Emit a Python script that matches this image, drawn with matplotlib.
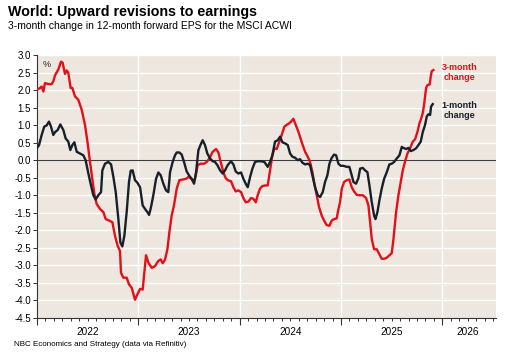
import numpy as np
import matplotlib
matplotlib.use("Agg")
import matplotlib.pyplot as plt
from matplotlib.ticker import FixedLocator, FuncFormatter

plt.rcParams['font.family'] = ['Liberation Sans', 'DejaVu Sans']

# ---- data (time in fractional years) ----
red_t = [2022.000, 2022.030, 2022.046, 2022.063, 2022.079, 2022.112, 2022.145, 2022.161, 2022.178, 2022.211,
         2022.237, 2022.253, 2022.276, 2022.293, 2022.309, 2022.332, 2022.349, 2022.375, 2022.408, 2022.441,
         2022.474, 2022.500, 2022.523, 2022.546, 2022.566, 2022.589, 2022.622, 2022.655, 2022.678, 2022.711,
         2022.744, 2022.770, 2022.796, 2022.819, 2022.829, 2022.852, 2022.885, 2022.908, 2022.935, 2022.967,
         2022.990, 2023.017, 2023.043, 2023.056, 2023.076, 2023.099, 2023.132, 2023.165, 2023.198, 2023.221,
         2023.241, 2023.264, 2023.287, 2023.306, 2023.329, 2023.352, 2023.379, 2023.405, 2023.438, 2023.471,
         2023.494, 2023.517, 2023.543, 2023.560, 2023.586, 2023.616, 2023.649, 2023.675, 2023.701, 2023.734,
         2023.767, 2023.790, 2023.813, 2023.839, 2023.860, 2023.882, 2023.915, 2023.938, 2023.961, 2023.987,
         2024.014, 2024.037, 2024.060, 2024.086, 2024.112, 2024.136, 2024.159, 2024.178, 2024.201, 2024.224,
         2024.251, 2024.277, 2024.300, 2024.323, 2024.343, 2024.366, 2024.389, 2024.415, 2024.442, 2024.465,
         2024.488, 2024.507, 2024.530, 2024.553, 2024.580, 2024.613, 2024.646, 2024.672, 2024.695, 2024.718,
         2024.738, 2024.761, 2024.784, 2024.810, 2024.833, 2024.859, 2024.886, 2024.909, 2024.932, 2024.958,
         2024.975, 2024.991, 2025.008, 2025.031, 2025.057, 2025.083, 2025.106, 2025.129, 2025.156, 2025.182,
         2025.215, 2025.248, 2025.271, 2025.287, 2025.304, 2025.327, 2025.353, 2025.379, 2025.402, 2025.426,
         2025.452, 2025.478, 2025.501, 2025.518, 2025.544, 2025.567, 2025.590, 2025.610, 2025.633, 2025.656,
         2025.682, 2025.709, 2025.732, 2025.755, 2025.774, 2025.787, 2025.807, 2025.820, 2025.840, 2025.853,
         2025.876, 2025.886, 2025.896, 2025.912]
red_v = [2.01, 2.06, 2.10, 1.96, 2.20, 2.17, 2.17, 2.25, 2.42, 2.59,
         2.81, 2.78, 2.46, 2.56, 2.49, 2.06, 2.06, 1.82, 1.72, 1.44,
         1.00, 0.48, -0.05, -0.53, -0.96, -1.25, -1.39, -1.48, -1.68, -1.72,
         -1.77, -2.16, -2.44, -2.59, -3.21, -3.35, -3.35, -3.54, -3.64, -3.98,
         -3.83, -3.67, -3.69, -3.30, -2.71, -2.92, -3.07, -3.02, -2.87, -2.83,
         -2.94, -2.83, -2.54, -2.06, -1.58, -1.29, -0.81, -0.57, -0.55, -0.53,
         -0.48, -0.51, -0.60, -0.53, -0.14, -0.10, -0.10, -0.05, 0.05, 0.24,
         0.32, 0.22, -0.05, -0.34, -0.50, -0.57, -0.60, -0.77, -0.89, -0.86,
         -0.91, -1.08, -1.20, -1.18, -1.08, -1.10, -1.20, -1.00, -0.81, -0.74,
         -0.72, -0.72, -0.29, 0.14, 0.34, 0.32, 0.51, 0.72, 0.96, 1.01,
         1.05, 1.10, 1.18, 1.01, 0.81, 0.51, 0.24, 0.10, -0.05, -0.34,
         -0.67, -1.00, -1.34, -1.58, -1.72, -1.85, -1.87, -1.72, -1.68, -1.66,
         -1.39, -1.20, -0.81, -0.62, -0.57, -0.55, -0.77, -0.89, -0.99, -1.00,
         -1.00, -1.08, -1.29, -1.77, -2.25, -2.54, -2.54, -2.68, -2.81, -2.81,
         -2.78, -2.71, -2.65, -2.25, -1.48, -1.00, -0.62, -0.29, -0.03, 0.19,
         0.34, 0.53, 0.60, 0.81, 1.05, 1.15, 1.34, 1.58, 2.06, 2.14,
         2.16, 2.39, 2.54, 2.57]

black_t = [2022.000, 2022.020, 2022.046, 2022.072, 2022.095, 2022.118, 2022.138, 2022.161, 2022.178, 2022.204,
           2022.230, 2022.260, 2022.283, 2022.309, 2022.329, 2022.349, 2022.369, 2022.392, 2022.424, 2022.457,
           2022.480, 2022.507, 2022.533, 2022.556, 2022.579, 2022.605, 2022.632, 2022.645, 2022.671, 2022.704,
           2022.731, 2022.754, 2022.777, 2022.803, 2022.823, 2022.842, 2022.862, 2022.885, 2022.908, 2022.925,
           2022.944, 2022.967, 2022.990, 2023.017, 2023.043, 2023.066, 2023.089, 2023.106, 2023.125, 2023.148,
           2023.175, 2023.198, 2023.221, 2023.247, 2023.273, 2023.296, 2023.313, 2023.339, 2023.362, 2023.379,
           2023.405, 2023.428, 2023.451, 2023.477, 2023.504, 2023.527, 2023.550, 2023.570, 2023.593, 2023.616,
           2023.635, 2023.658, 2023.681, 2023.708, 2023.734, 2023.757, 2023.780, 2023.807, 2023.833, 2023.856,
           2023.882, 2023.915, 2023.938, 2023.961, 2023.987, 2024.014, 2024.037, 2024.060, 2024.080, 2024.103,
           2024.126, 2024.152, 2024.178, 2024.211, 2024.244, 2024.277, 2024.300, 2024.323, 2024.349, 2024.376,
           2024.399, 2024.422, 2024.448, 2024.475, 2024.498, 2024.521, 2024.547, 2024.573, 2024.596, 2024.619,
           2024.646, 2024.672, 2024.695, 2024.718, 2024.744, 2024.771, 2024.794, 2024.820, 2024.843, 2024.866,
           2024.886, 2024.909, 2024.932, 2024.952, 2024.975, 2024.998, 2025.024, 2025.057, 2025.083, 2025.106,
           2025.123, 2025.149, 2025.172, 2025.189, 2025.215, 2025.238, 2025.261, 2025.281, 2025.304, 2025.327,
           2025.340, 2025.360, 2025.379, 2025.402, 2025.426, 2025.452, 2025.478, 2025.501, 2025.524, 2025.551,
           2025.577, 2025.600, 2025.616, 2025.643, 2025.666, 2025.689, 2025.715, 2025.741, 2025.764, 2025.787,
           2025.807, 2025.830, 2025.847, 2025.863, 2025.880, 2025.889, 2025.906]
black_v = [0.35, 0.43, 0.72, 0.96, 0.99, 1.10, 0.96, 0.72, 0.80, 0.86,
           1.02, 0.86, 0.62, 0.53, 0.29, 0.43, 0.51, 0.24, 0.19, 0.14,
           0.00, -0.38, -0.72, -1.00, -1.12, -1.00, -0.91, -0.29, -0.10, -0.05,
           -0.12, -0.48, -0.91, -1.68, -2.35, -2.46, -2.16, -1.48, -0.62, -0.30,
           -0.29, -0.57, -0.64, -0.77, -1.29, -1.39, -1.48, -1.56, -1.34, -1.00,
           -0.53, -0.35, -0.43, -0.67, -0.86, -0.91, -0.34, -0.05, 0.14, 0.22,
           0.22, 0.16, -0.05, -0.32, -0.45, -0.53, -0.67, -0.34, 0.29, 0.45,
           0.57, 0.43, 0.19, 0.05, -0.03, -0.05, -0.14, -0.29, -0.38, -0.29,
           -0.14, -0.03, -0.12, -0.32, -0.38, -0.35, -0.53, -0.67, -0.77, -0.48,
           -0.24, -0.05, -0.03, -0.03, -0.05, -0.19, -0.05, 0.14, 0.53, 0.57,
           0.67, 0.51, 0.48, 0.43, 0.19, 0.10, 0.07, 0.00, 0.03, -0.07,
           -0.12, -0.10, -0.14, -0.43, -0.77, -1.00, -1.05, -0.91, -0.62, -0.43,
           -0.10, 0.07, 0.16, 0.14, -0.10, -0.16, -0.16, -0.19, -0.19, -0.43,
           -0.62, -0.67, -0.51, -0.24, -0.22, -0.29, -0.34, -0.72, -1.20, -1.58,
           -1.68, -1.48, -1.15, -0.81, -0.53, -0.34, -0.12, -0.10, -0.05, 0.05,
           0.14, 0.38, 0.35, 0.32, 0.35, 0.26, 0.29, 0.34, 0.43, 0.53,
           0.80, 1.01, 1.25, 1.31, 1.29, 1.53, 1.60]

years = [2022, 2023, 2024, 2025, 2026]
y_ticks = [3.0, 2.5, 2.0, 1.5, 1.0, 0.5, 0.0, -0.5, -1.0, -1.5, -2.0, -2.5, -3.0, -3.5, -4.0, -4.5]

RED = '#E3101A'
NAVY = '#17212C'
BG = '#EDE7DF'

fig = plt.figure(figsize=(5.08, 3.54), dpi=100)
ax = fig.add_axes([37/508, 1-318/354, (496-37)/508, (318-55)/354])
ax.set_facecolor(BG)

x_end = 2026.53
ax.set_xlim(2022.0, x_end)
ax.set_ylim(-4.5, 3.0)

# grid
for v in y_ticks:
    ax.axhline(v, color='white', lw=1.0, zorder=1)
for yr in years[1:]:
    ax.axvline(yr, color='white', lw=1.0, zorder=1)
ax.axhline(0, color='#3C3C3C', lw=0.8, zorder=2)

ax.plot(red_t, red_v, color=RED, lw=1.7, zorder=3, solid_joinstyle='round')
ax.plot(black_t, black_v, color=NAVY, lw=1.7, zorder=4, solid_joinstyle='round')

for s in ['top', 'right']:
    ax.spines[s].set_visible(False)
for s in ['left', 'bottom']:
    ax.spines[s].set_color('#333333')
    ax.spines[s].set_linewidth(0.8)

ax.set_yticks(y_ticks)
ax.set_yticklabels([f"{v:.1f}" for v in y_ticks], fontsize=7)
ax.tick_params(axis='y', direction='out', length=3, width=0.7, color='#333333', pad=1.5)

# x ticks: year boundaries major, months minor, labels at mid-year
ax.xaxis.set_major_locator(FixedLocator(years))
ax.xaxis.set_major_formatter(FuncFormatter(lambda x, p: ''))
months = np.arange(2022, x_end, 1/12)
ax.xaxis.set_minor_locator(FixedLocator(months))
label_pos = {2022.5: '2022', 2023.5: '2023', 2024.5: '2024', 2025.5: '2025', 2026.25: '2026'}
def minor_fmt(x, p):
    for k, lab in label_pos.items():
        if abs(x - k) < 1e-4:
            return lab
    return ''
ax.xaxis.set_minor_formatter(FuncFormatter(minor_fmt))
ax.tick_params(axis='x', which='major', direction='out', length=5, width=0.8, color='#333333')
ax.tick_params(axis='x', which='minor', direction='out', length=2.5, width=0.7, color='#333333',
               labelsize=7.2, pad=4)

ax.text(0.012, 0.965, '%', transform=ax.transAxes, fontsize=6.5, ha='left', va='center', color='#222222')
ax.text(0.92, 0.933, '3-month\nchange', transform=ax.transAxes, fontsize=6.5, fontweight='bold',
        color=RED, ha='center', va='center', linespacing=1.25)
ax.text(0.92, 0.789, '1-month\nchange', transform=ax.transAxes, fontsize=6.5, fontweight='bold',
        color=NAVY, ha='center', va='center', linespacing=1.25)

fig.text(8/508, 1-16/354, 'World: Upward revisions to earnings', fontsize=10.3, fontweight='bold',
         ha='left', va='baseline', color='black')
fig.text(8/508, 1-29/354, '3-month change in 12-month forward EPS for the MSCI ACWI', fontsize=7.5,
         ha='left', va='baseline', color='black')
fig.text(14/508, 1-346/354, 'NBC Economics and Strategy (data via Refinitiv)', fontsize=5.8,
         ha='left', va='baseline', color='black')

fig.savefig('out.png', dpi=100, facecolor='white')
